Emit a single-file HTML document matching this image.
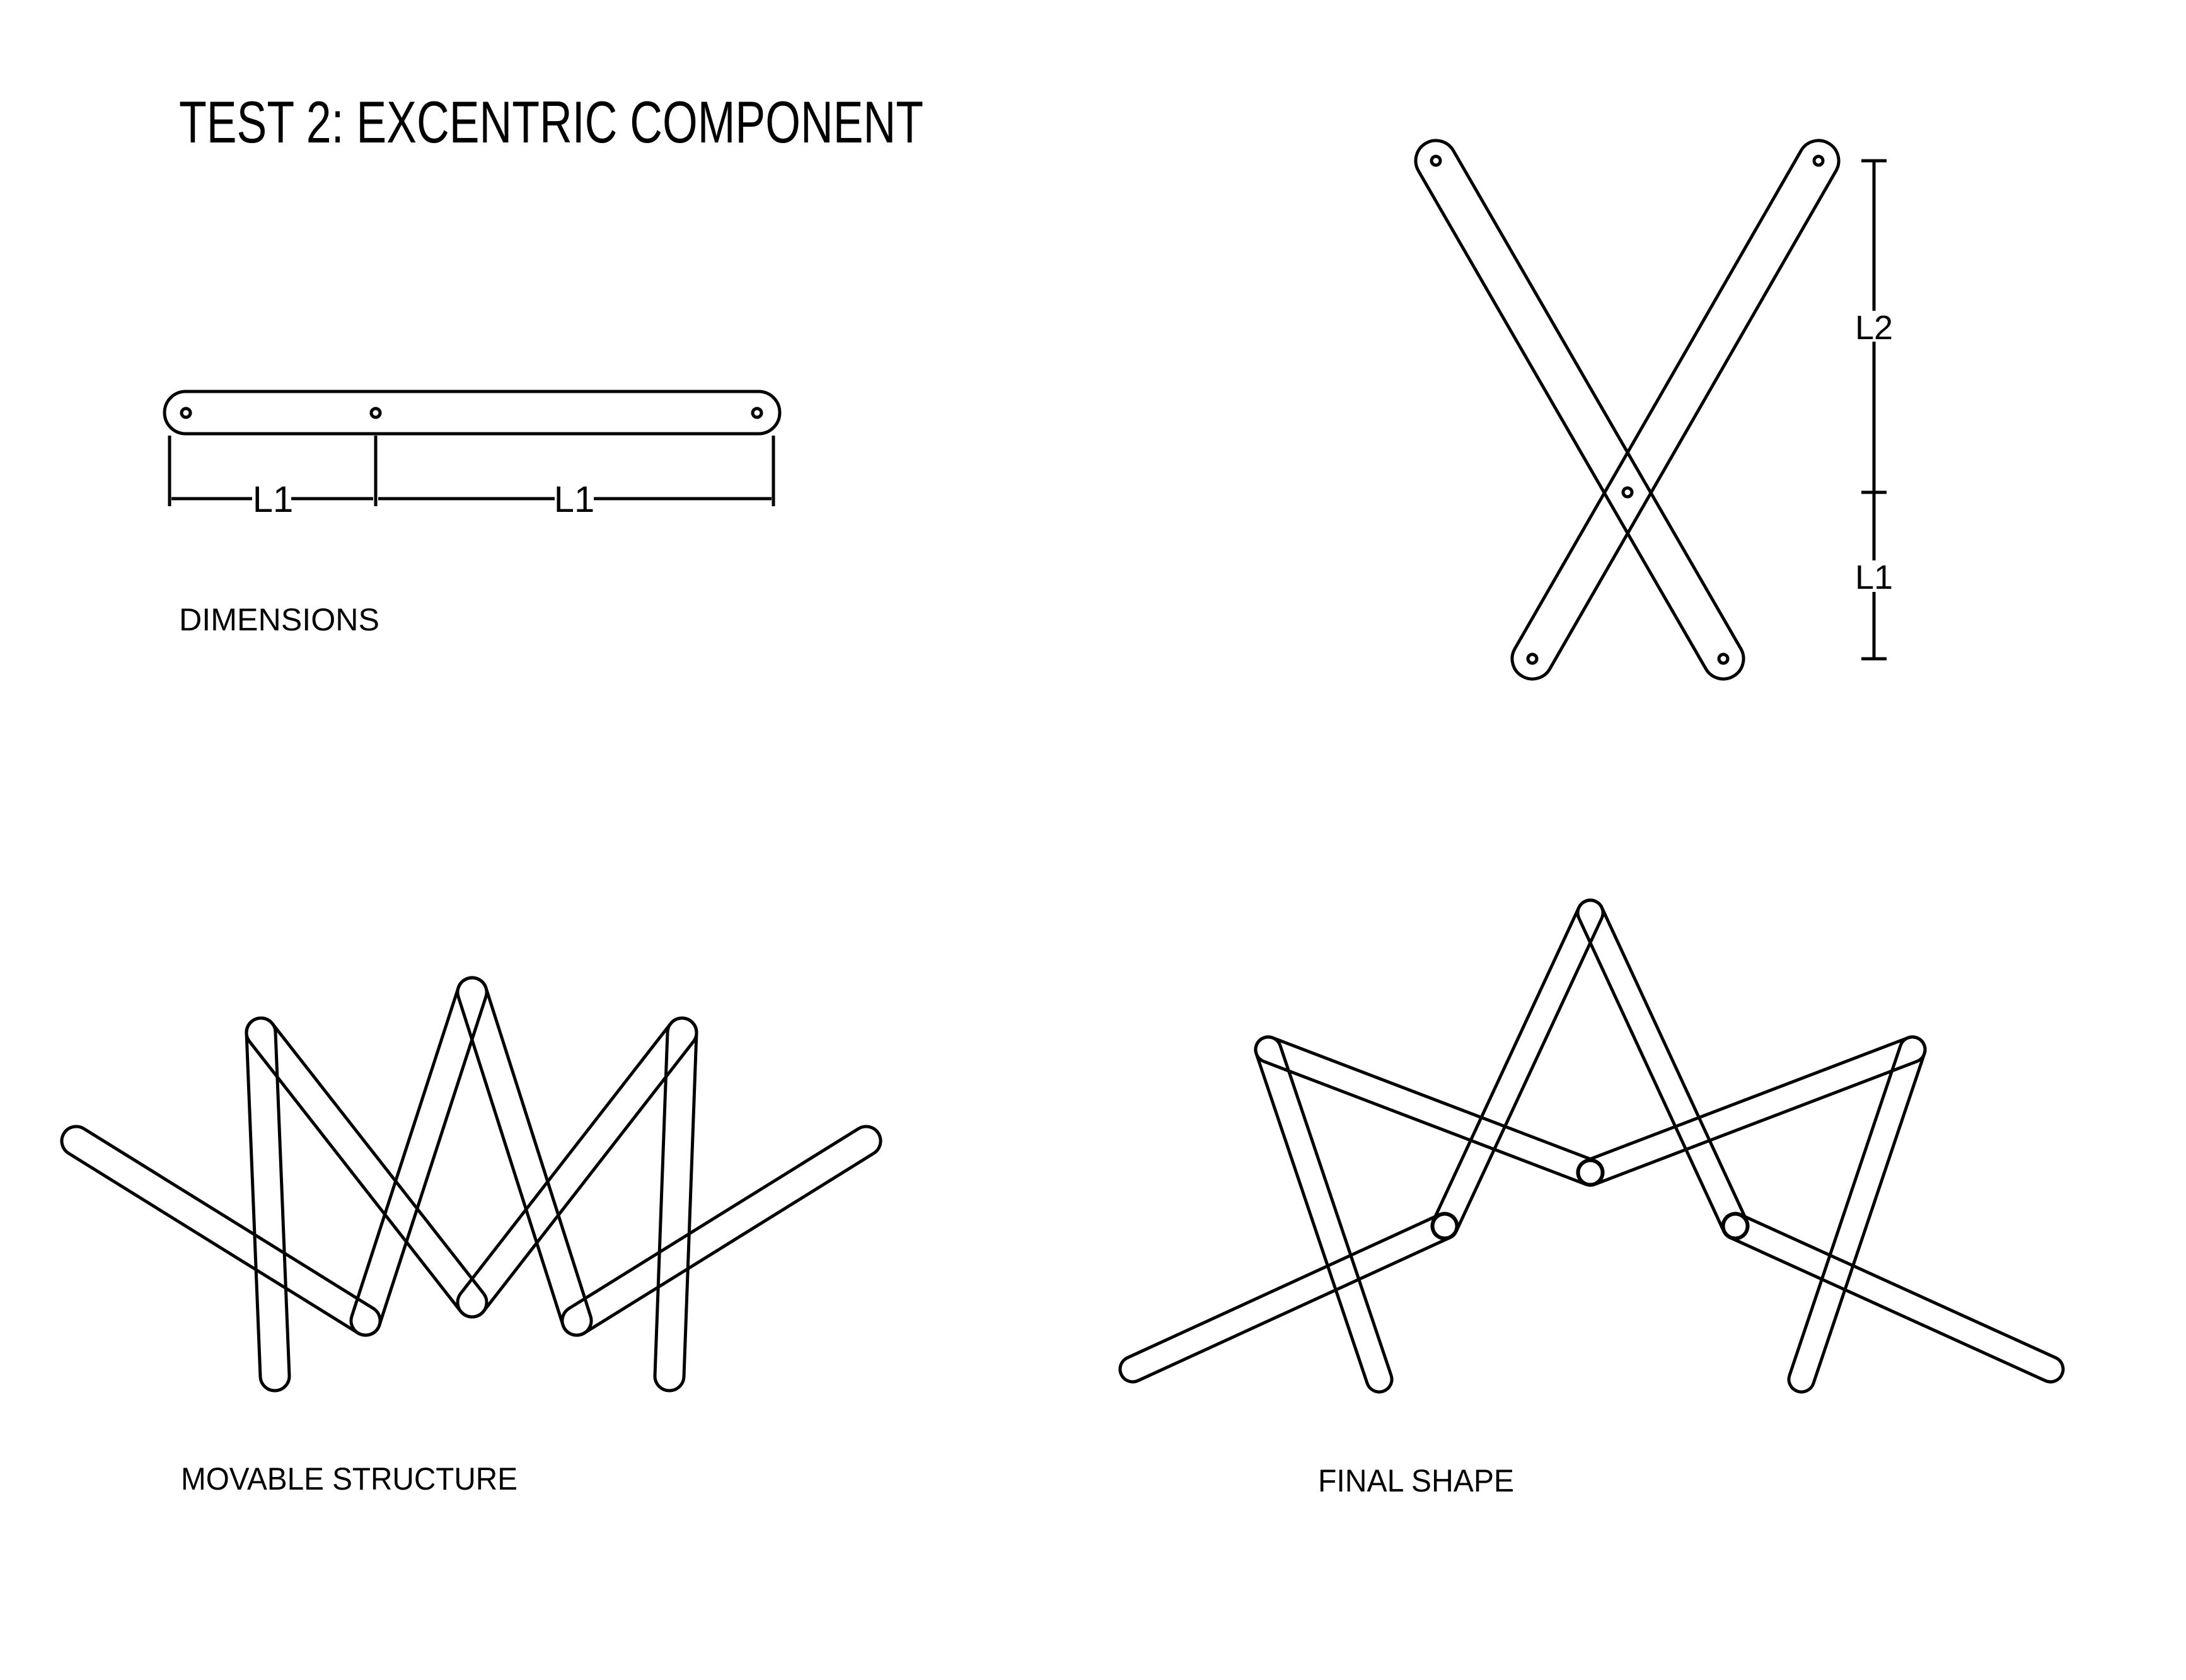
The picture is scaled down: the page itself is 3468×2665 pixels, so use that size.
<!DOCTYPE html>
<html><head><meta charset="utf-8">
<style>
html,body{margin:0;padding:0;background:#fff;}
svg{display:block;}
text{font-family:"Liberation Sans",sans-serif;fill:#000;}
</style></head>
<body>
<svg id="s" width="3468" height="2665" viewBox="0 0 3468 2665" xmlns="http://www.w3.org/2000/svg">
<rect width="3468" height="2665" fill="#fff"/>
<g fill="none" stroke="#000" stroke-width="5" id="g">
  <rect x="261" y="621" width="976" height="67" rx="33.5" ry="33.5"/>
  <circle cx="295" cy="655" r="7"/>
  <circle cx="596" cy="655" r="7"/>
  <circle cx="1201" cy="655" r="7"/>
  <line x1="269" y1="691" x2="269" y2="803"/>
  <line x1="596" y1="691" x2="596" y2="803"/>
  <line x1="1227" y1="691" x2="1227" y2="803"/>
  <line x1="272" y1="791" x2="400" y2="791"/>
  <line x1="462" y1="791" x2="592" y2="791"/>
  <line x1="600" y1="791" x2="880" y2="791"/>
  <line x1="942" y1="791" x2="1224" y2="791"/>
  <line x1="2953" y1="255" x2="2993" y2="255"/>
  <line x1="2953" y1="781" x2="2993" y2="781"/>
  <line x1="2953" y1="1045" x2="2993" y2="1045"/>
  <line x1="2973" y1="255" x2="2973" y2="493"/>
  <line x1="2973" y1="542" x2="2973" y2="781"/>
  <line x1="2973" y1="781" x2="2973" y2="889"/>
  <line x1="2973" y1="939" x2="2973" y2="1045"/>
  <circle cx="2278" cy="255" r="7"/>
  <circle cx="2734" cy="1045" r="7"/>
  <circle cx="2885" cy="255" r="7"/>
  <circle cx="2431" cy="1045" r="7"/>
  <circle cx="2582" cy="781" r="7"/>
  <circle cx="2523" cy="1860" r="19"/>
  <circle cx="2292" cy="1945" r="19"/>
  <circle cx="2753" cy="1945" r="19"/>
</g>
<text x="284" y="226" font-size="94" textLength="1181" lengthAdjust="spacingAndGlyphs">TEST 2: EXCENTRIC COMPONENT</text>
<text x="433" y="812" font-size="58" text-anchor="middle">L1</text>
<text x="911" y="812" font-size="58" text-anchor="middle">L1</text>
<text x="284" y="1000" font-size="50" textLength="318" lengthAdjust="spacingAndGlyphs">DIMENSIONS</text>
<text x="2973" y="538" font-size="54" text-anchor="middle">L2</text>
<text x="2973" y="934" font-size="54" text-anchor="middle">L1</text>
<text x="287" y="2363" font-size="50" textLength="534" lengthAdjust="spacingAndGlyphs">MOVABLE STRUCTURE</text>
<text x="2091" y="2366" font-size="50" textLength="311" lengthAdjust="spacingAndGlyphs">FINAL SHAPE</text>
</svg>
<script>
(function(){
var g=document.getElementById('g');
function cap(x1,y1,x2,y2,r){
  var dx=x2-x1,dy=y2-y1,L=Math.sqrt(dx*dx+dy*dy),a=Math.atan2(dy,dx)*180/Math.PI;
  var cx=(x1+x2)/2,cy=(y1+y2)/2;
  var e=document.createElementNS('http://www.w3.org/2000/svg','rect');
  e.setAttribute('x',-L/2-r);e.setAttribute('y',-r);
  e.setAttribute('width',L+2*r);e.setAttribute('height',2*r);
  e.setAttribute('rx',r);e.setAttribute('ry',r);
  e.setAttribute('transform','translate('+cx+','+cy+') rotate('+a+')');
  g.appendChild(e);
}
cap(2278,255,2734,1045,32);
cap(2885,255,2431,1045,32);
var r=23;
cap(121,1810,580,2095,r);
cap(580,2095,749,1574,r);
cap(749,1574,915,2095,r);
cap(915,2095,1374,1810,r);
cap(414,1638,436,2183,r);
cap(414,1638,749,2066,r);
cap(749,2066,1082,1638,r);
cap(1082,1638,1062,2183,r);
var q=20;
cap(2523,1448,2292,1945,q);
cap(2523,1448,2753,1945,q);
cap(2012,1665,2523,1860,q);
cap(2523,1860,3034,1665,q);
cap(2012,1665,2188,2188,q);
cap(3034,1665,2858,2188,q);
cap(2292,1945,1797,2172,q);
cap(2753,1945,3253,2172,q);
})();
</script>
</body></html>
